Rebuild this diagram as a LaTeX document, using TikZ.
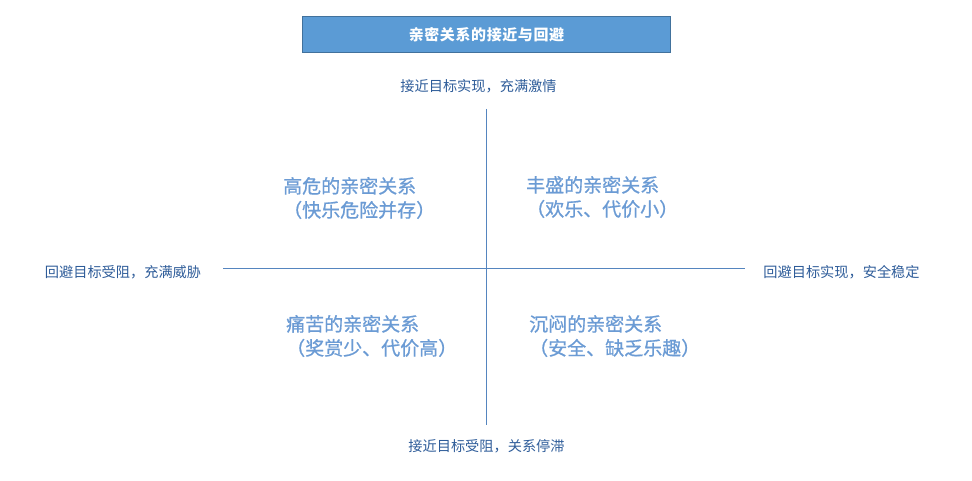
\documentclass[tikz,border=0pt]{standalone}
\usepackage{fontspec}
\newfontfamily\cjk{Noto Sans CJK SC}
\newfontfamily\cjkquad[FakeBold=0.8]{Noto Sans CJK SC}
\newfontfamily\cjktitle[LetterSpace=4]{Noto Sans CJK SC}
\definecolor{titlefill}{HTML}{5B9BD5}
\definecolor{titleborder}{HTML}{41719C}
\definecolor{axisline}{HTML}{5585BF}
\definecolor{axistext}{HTML}{2E5C99}
\definecolor{quadtext}{HTML}{6B9BD4}
\begin{document}
\begin{tikzpicture}[x=1pt,y=-1pt,
  titlebox/.style={draw=titleborder,fill=titlefill,line width=0.8pt,minimum width=368pt,minimum height=36pt,inner sep=0pt,text=white,font=\cjktitle\bfseries\fontsize{15}{17}\selectfont},
  axislabel/.style={inner sep=0pt,text=axistext,font=\cjk\fontsize{14.2}{16}\selectfont},
  quad/.style={inner sep=0pt,anchor=west,align=left,text=quadtext,font=\cjkquad\fontsize{19}{24}\selectfont},
  axis/.style={draw=axisline,line width=0.9pt}]
\useasboundingbox (0,0) rectangle (972,481);
\node[titlebox] (title) at (486.5,34.5) {亲密关系的接近与回避};
\node[axislabel] (top) at (478.5,86) {接近目标实现，充满激情};
\node[axislabel] (bottom) at (486.5,446) {接近目标受阻，关系停滞};
\node[axislabel] (left) at (123,272) {回避目标受阻，充满威胁};
\node[axislabel] (right) at (841.5,272) {回避目标实现，安全稳定};
\coordinate (vt) at (486,109);
\coordinate (vb) at (486,425);
\coordinate (hl) at (223,268);
\coordinate (hr) at (745,268);
\draw[axis] (vt) -- (vb);
\draw[axis] (hl) -- (hr);
\node[quad] (q1) at (283,198) {高危的亲密关系\\（快乐危险并存）};
\node[quad] (q2) at (526,197) {丰盛的亲密关系\\（欢乐、代价小）};
\node[quad] (q3) at (286,336) {痛苦的亲密关系\\（奖赏少、代价高）};
\node[quad] (q4) at (529,336) {沉闷的亲密关系\\（安全、缺乏乐趣）};
\end{tikzpicture}
\end{document}
